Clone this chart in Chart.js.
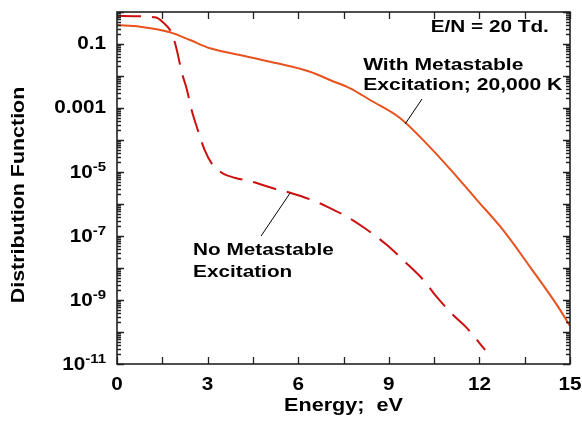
<!DOCTYPE html>
<html>
<head>
<meta charset="utf-8">
<script src="https://cdn.jsdelivr.net/npm/chart.js@4/dist/chart.umd.min.js"></script>
<style>
  html, body { margin: 0; padding: 0; background: #fff; }
  #wrap { width: 582px; height: 426px; }
</style>
</head>
<body>
<div id="wrap"><canvas id="chart"></canvas></div>
<script>
// Energy (eV) and distribution function values
const withMetaX = [0, 0.76, 1.75, 2.42, 3.08, 4.07, 5.07, 6.39, 7.05, 7.72, 8.38, 9.37, 10.36, 11.03, 11.92, 12.78, 13.68, 14.57, 15];
const withMetaY = [0.389, 0.347, 0.232, 0.133, 0.0735, 0.0453, 0.028, 0.0136, 7.5e-3, 4.13e-3, 1.78e-3, 4.9e-4, 6.0e-5, 1.23e-5, 1.33e-6, 1.55e-7, 1.07e-8, 6.9e-10, 1.55e-10];

const noMetaX = [0, 1.26, 1.55, 1.82, 1.98, 2.14, 2.3, 2.5, 2.64, 2.9, 3.17, 3.5, 3.9, 4.46, 5.17, 5.73, 6.46, 6.95, 7.72, 8.21, 8.94, 9.47, 10.2, 10.53, 11.13, 11.59, 12.19];
const noMetaY = [0.76, 0.68, 0.45, 0.21, 0.065, 0.0135, 4.2e-3, 6.8e-4, 2.6e-4, 4.9e-5, 1.66e-5, 9.1e-6, 6.6e-6, 5.0e-6, 3.1e-6, 2.24e-6, 1.32e-6, 8.3e-7, 3.5e-7, 1.74e-7, 5.2e-8, 1.78e-8, 3.7e-9, 1.45e-9, 3.4e-10, 1.32e-10, 2.75e-11];

// tick labels
const xTickLabels = [0, 3, 6, 9, 12, 15];
const yTickExps = [-1, -3, -5, -7, -9, -11];

const FONT = '"Liberation Sans", Arial, sans-serif';
const STRETCH = 1.15;

function toPoints(xs, ys) {
    return xs.map((x, i) => ({ x: x, y: ys[i] }));
}

// draw bold text a little wider than the font, like the original
function drawText(ctx, str, x, y, align, size, stretch) {
    ctx.font = 'bold ' + size + 'px ' + FONT;
    const w = ctx.measureText(str).width * stretch;
    let left = x;
    if (align === 'center') left = x - w / 2;
    if (align === 'right') left = x - w;
    ctx.save();
    ctx.translate(left, y);
    ctx.scale(stretch, 1);
    ctx.textAlign = 'left';
    ctx.textBaseline = 'middle';
    ctx.fillText(str, 0, 0);
    ctx.restore();
    return w;
}

function textWidth(ctx, str, size, stretch) {
    ctx.font = 'bold ' + size + 'px ' + FONT;
    return ctx.measureText(str).width * stretch;
}

const framePlugin = {
    id: 'frame',
    afterDatasetsDraw(chart) {
        const ctx = chart.ctx;
        const a = chart.chartArea;
        const xs = chart.scales.x;
        const ys = chart.scales.y;
        ctx.save();
        ctx.strokeStyle = '#222';
        ctx.fillStyle = '#000';

        // x ticks, inward on bottom and top
        ctx.lineWidth = 1.3;
        ctx.beginPath();
        for (let v = 0; v <= 15.001; v += 1.5) {
            const px = Math.round(xs.getPixelForValue(v)) + 0.5;
            ctx.moveTo(px, a.bottom); ctx.lineTo(px, a.bottom - 7);
            ctx.moveTo(px, a.top); ctx.lineTo(px, a.top + 7);
        }
        // y ticks, decades and minors, inward on left and right
        for (let e = -11; e <= 0; e++) {
            for (let m = 1; m <= 9; m++) {
                const val = m * Math.pow(10, e);
                if (val > 1.0001) continue;
                const py = Math.round(ys.getPixelForValue(val)) + 0.5;
                const len = m === 1 ? 7 : 4;
                ctx.moveTo(a.left, py); ctx.lineTo(a.left + len, py);
                ctx.moveTo(a.right, py); ctx.lineTo(a.right - len, py);
            }
        }
        ctx.stroke();

        // frame
        ctx.lineWidth = 1.6;
        ctx.strokeRect(a.left, a.top, a.right - a.left, a.bottom - a.top);

        // x tick labels
        xTickLabels.forEach(v => {
            drawText(ctx, String(v), xs.getPixelForValue(v), a.bottom + 21, 'center', 18, STRETCH);
        });

        // y tick labels
        const rightEdge = a.left - 11;
        yTickExps.forEach(e => {
            const py = ys.getPixelForValue(Math.pow(10, e));
            if (e === -1) {
                drawText(ctx, '0.1', rightEdge, py, 'right', 18, STRETCH);
            } else if (e === -3) {
                drawText(ctx, '0.001', rightEdge, py, 'right', 18, STRETCH);
            } else {
                const sup = '-' + Math.abs(e);
                const wSup = textWidth(ctx, sup, 13, STRETCH);
                const wBase = textWidth(ctx, '10', 18, STRETCH);
                drawText(ctx, '10', rightEdge - wSup - wBase, py + 1, 'left', 18, STRETCH);
                drawText(ctx, sup, rightEdge - wSup, py - 5, 'left', 13, STRETCH);
            }
        });

        // axis titles
        drawText(ctx, 'Energy;  eV', (a.left + a.right) / 2, 406, 'center', 18, 1.2);
        ctx.save();
        ctx.translate(19, 195);
        ctx.rotate(-Math.PI / 2);
        drawText(ctx, 'Distribution Function', 0, 0, 'center', 18, 1.19);
        ctx.restore();

        // annotations
        drawText(ctx, 'E/N = 20 Td.', xs.getPixelForValue(14.3), ys.getPixelForValue(Math.pow(10, -0.47)), 'right', 17, 1.22);
        drawText(ctx, 'With Metastable', xs.getPixelForValue(8.15), ys.getPixelForValue(Math.pow(10, -1.66)), 'left', 17, 1.24);
        drawText(ctx, 'Excitation; 20,000 K', xs.getPixelForValue(8.15), ys.getPixelForValue(Math.pow(10, -2.28)), 'left', 17, 1.24);
        drawText(ctx, 'No Metastable', xs.getPixelForValue(2.52), ys.getPixelForValue(Math.pow(10, -7.44)), 'left', 17, 1.22);
        drawText(ctx, 'Excitation', xs.getPixelForValue(2.52), ys.getPixelForValue(Math.pow(10, -8.13)), 'left', 17, 1.22);

        // leader lines
        ctx.strokeStyle = '#000';
        ctx.lineWidth = 1;
        ctx.beginPath();
        ctx.moveTo(xs.getPixelForValue(10.1), ys.getPixelForValue(Math.pow(10, -2.72)));
        ctx.lineTo(xs.getPixelForValue(9.54), ys.getPixelForValue(Math.pow(10, -3.5)));
        ctx.moveTo(xs.getPixelForValue(4.77), ys.getPixelForValue(Math.pow(10, -7.0)));
        ctx.lineTo(xs.getPixelForValue(5.73), ys.getPixelForValue(Math.pow(10, -5.66)));
        ctx.stroke();
        ctx.restore();
    }
};

new Chart(document.getElementById('chart'), {
    type: 'line',
    data: {
        datasets: [{
            label: 'With Metastable Excitation; 20,000 K',
            data: toPoints(withMetaX, withMetaY),
            borderColor: 'rgb(232, 82, 30)',
            borderWidth: 2,
            pointRadius: 0,
            cubicInterpolationMode: 'monotone',
            fill: false
        }, {
            label: 'No Metastable Excitation',
            data: toPoints(noMetaX, noMetaY),
            borderColor: 'rgb(204, 16, 16)',
            borderWidth: 2,
            borderDash: [24, 11],
            pointRadius: 0,
            cubicInterpolationMode: 'monotone',
            fill: false
        }]
    },
    options: {
        responsive: true,
        maintainAspectRatio: false,
        animation: false,
        layout: { padding: { top: 12, right: 12, left: 0, bottom: 0 } },
        plugins: {
            legend: { display: false },
            tooltip: { enabled: false }
        },
        scales: {
            x: {
                type: 'linear',
                min: 0,
                max: 15,
                grid: { display: false },
                border: { display: false },
                ticks: { display: false },
                afterFit: function(scale) { scale.height = 62; }
            },
            y: {
                type: 'logarithmic',
                min: 1e-11,
                max: 1,
                grid: { display: false },
                border: { display: false },
                ticks: { display: false },
                afterFit: function(scale) { scale.width = 117; }
            }
        }
    },
    plugins: [framePlugin]
});
</script>
</body>
</html>
